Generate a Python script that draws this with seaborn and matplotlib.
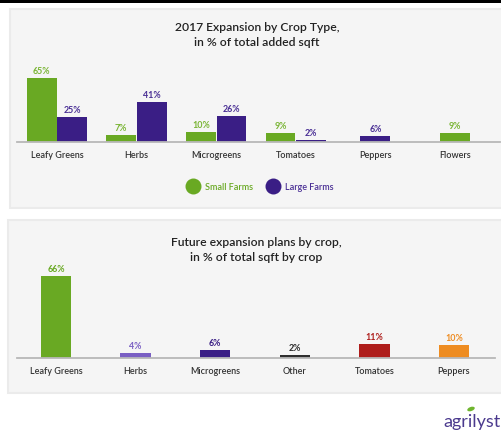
import matplotlib
matplotlib.use("Agg")
import matplotlib.pyplot as plt
from matplotlib.patches import Rectangle, Ellipse
from matplotlib.lines import Line2D
import seaborn as sns
import pandas as pd

# ---------------- data ----------------
top_crops = ["Leafy Greens", "Herbs", "Microgreens", "Tomatoes", "Peppers", "Flowers"]
farms = ["Small Farms", "Large Farms"]
small_farms = [65, 7, 10, 9, None, 9]
large_farms = [25, 41, 26, 2, 6, None]

bottom_crops = ["Leafy Greens", "Herbs", "Microgreens", "Other", "Tomatoes", "Peppers"]
future_plans = [66, 4, 6, 2, 11, 10]

top_title = "2017 Expansion by Crop Type,\nin % of total added sqft"
bottom_title = "Future expansion plans by crop,\nin % of total sqft by crop"

# ---------------- styles ----------------
GREEN = "#69a923"
PURPLE = "#3a1e85"
farm_colors = {"Small Farms": GREEN, "Large Farms": PURPLE}
bottom_colors = ["#69a923", "#7a5fc3", "#3a1e85", "#2e2e2e", "#ae1d1b", "#ee8c21"]
label_colors_top = {"Small Farms": "#7ab535", "Large Farms": "#4a2f95"}
PANEL = "#f5f5f5"
BASE = "#b8b8b8"
TXT = "#333333"
FONT = ["Lato", "DejaVu Sans"]

sns.set_theme(style="white")
plt.rcParams["font.family"] = FONT

W, H = 501, 432
fig = plt.figure(figsize=(W / 100, H / 100), dpi=100)
fig.patch.set_facecolor("white")


def fx(x):
    return x / W


def fy(y):
    return 1 - y / H


def rect_px(x0, y0, x1, y1, **kw):
    fig.add_artist(Rectangle((fx(x0), fy(y1)), fx(x1) - fx(x0), (y1 - y0) / H,
                             transform=fig.transFigure, **kw))


# background pieces
rect_px(0, 0, W, 2.7, facecolor="black", edgecolor="none", zorder=0)
rect_px(10, 9, W + 5, 208, facecolor=PANEL, edgecolor="#ebebeb", lw=1.5, zorder=0)
rect_px(8, 220, W + 5, 393, facecolor=PANEL, edgecolor="#ebebeb", lw=1.5, zorder=0)

# ---------------- top chart ----------------
rows = []
for c, s, l in zip(top_crops, small_farms, large_farms):
    if s is not None:
        rows.append((c, "Small Farms", s, l is not None))
    if l is not None:
        rows.append((c, "Large Farms", l, s is not None))
df = pd.DataFrame(rows, columns=["crop", "farm", "value", "paired"])

ax1_left, ax1_right = 17, 500
cat_spacing = 79.6
xmin1 = -(57 - ax1_left) / cat_spacing
xmax1 = xmin1 + (ax1_right - ax1_left) / cat_spacing
ppu1 = 64 / 65
ylim1 = 70
ax1 = fig.add_axes([fx(ax1_left), fy(142), (ax1_right - ax1_left) / W, ylim1 * ppu1 / H])
ax1.set_facecolor("none")

sns.barplot(data=df[df.paired], x="crop", y="value", hue="farm", order=top_crops,
            hue_order=farms, palette=farm_colors, width=0.77, gap=0.03, saturation=1,
            legend=False, ax=ax1, linewidth=0)
sns.barplot(data=df[~df.paired], x="crop", y="value", hue="farm", order=top_crops,
            hue_order=farms, palette=farm_colors, width=0.375, dodge=False,
            saturation=1, legend=False, ax=ax1, linewidth=0)

green_rgba = matplotlib.colors.to_rgba(GREEN)
for cont in ax1.containers:
    labels = []
    for p in cont.patches:
        h = p.get_height()
        labels.append("" if pd.isna(h) or h == 0 else f"{h:.0f}%")
    fc = cont.patches[0].get_facecolor()
    is_green = abs(fc[0] - green_rgba[0]) < 0.05 and abs(fc[1] - green_rgba[1]) < 0.05
    col = label_colors_top["Small Farms"] if is_green else label_colors_top["Large Farms"]
    ax1.bar_label(cont, labels=labels, color=col, fontsize=6.4, fontweight="bold", padding=1.5)

ax1.set_xlim(xmin1, xmax1)
ax1.set_ylim(0, ylim1)

# ---------------- bottom chart ----------------
df2 = pd.DataFrame({"crop": bottom_crops, "value": future_plans})
ax2_left, ax2_right = 17, 495
xmin2 = -(56 - ax2_left) / cat_spacing
xmax2 = xmin2 + (ax2_right - ax2_left) / cat_spacing
ppu2 = 82 / 66
ylim2 = 70
ax2 = fig.add_axes([fx(ax2_left), fy(357.7), (ax2_right - ax2_left) / W, ylim2 * ppu2 / H])
ax2.set_facecolor("none")
sns.barplot(data=df2, x="crop", y="value", hue="crop", order=bottom_crops,
            hue_order=bottom_crops, palette=bottom_colors, width=0.38, dodge=False,
            saturation=1, legend=False, ax=ax2, linewidth=0)
for cont in ax2.containers:
    labels = []
    for p in cont.patches:
        h = p.get_height()
        labels.append("" if pd.isna(h) or h == 0 else f"{h:.0f}%")
    ax2.bar_label(cont, labels=labels, color=cont.patches[0].get_facecolor(),
                  fontsize=6.4, fontweight="bold", padding=1.5)
ax2.set_xlim(xmin2, xmax2)
ax2.set_ylim(0, ylim2)

for ax in (ax1, ax2):
    for s in ("top", "left", "right"):
        ax.spines[s].set_visible(False)
    ax.spines["bottom"].set_color(BASE)
    ax.spines["bottom"].set_linewidth(1.3)
    ax.set_xlabel("")
    ax.set_ylabel("")
    ax.set_yticks([])
    ax.tick_params(axis="x", length=0, pad=6.5, labelsize=6.5, labelcolor=TXT)
    for t in ax.get_xticklabels():
        t.set_fontweight("semibold")

# titles
fig.text(fx(257), fy(35), top_title, ha="center", va="center", fontsize=8.7,
         fontweight="semibold", color="#222222", linespacing=1.35)
fig.text(fx(256), fy(250), bottom_title, ha="center", va="center", fontsize=8.7,
         fontweight="semibold", color="#222222", linespacing=1.35)

# legend
handles = [Line2D([0], [0], marker="o", linestyle="none", markersize=11.5,
                  markerfacecolor=farm_colors[f], markeredgecolor="none") for f in farms]
leg = ax1.legend(handles, farms, loc="center", bbox_to_anchor=(fx(259), fy(187)),
                 bbox_transform=fig.transFigure, ncol=2, frameon=False,
                 handletextpad=0.3, columnspacing=1.2, fontsize=6.5)
for t, f in zip(leg.get_texts(), farms):
    t.set_color(farm_colors[f] if f == "Small Farms" else "#4a2f95")
    t.set_fontweight("semibold")

# logo
fig.text(fx(443), fy(422), "agrilyst", ha="left", va="center", fontsize=13,
         color="#4b3a8e", fontweight="normal")
fig.add_artist(Ellipse((fx(471), fy(409)), 8 / W, 4 / H, angle=25,
                       transform=fig.transFigure, facecolor="#6fb52e", edgecolor="none"))

fig.savefig("out.png", dpi=100, facecolor="white")
